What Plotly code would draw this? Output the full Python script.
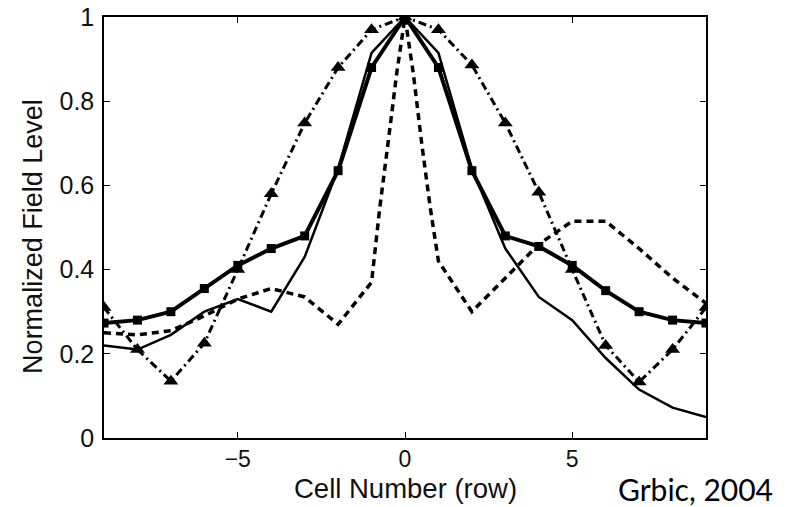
import plotly.graph_objects as go

cells = [-9, -8, -7, -6, -5, -4, -3, -2, -1, 0, 1, 2, 3, 4, 5, 6, 7, 8, 9]

square_vals = [0.273, 0.28, 0.30, 0.355, 0.41, 0.45, 0.48, 0.635, 0.88, 1.0,
               0.88, 0.635, 0.48, 0.455, 0.41, 0.35, 0.30, 0.28, 0.273]

thin_vals = [0.22, 0.21, 0.245, 0.30, 0.33, 0.30, 0.43, 0.64, 0.915, 1.0,
             0.915, 0.64, 0.45, 0.335, 0.28, 0.19, 0.115, 0.072, 0.05]

triangle_vals = [0.31, 0.21, 0.135, 0.225, 0.40, 0.58, 0.748, 0.88, 0.97, 1.0,
                 0.97, 0.886, 0.748, 0.584, 0.40, 0.22, 0.133, 0.21, 0.31]

dashed_x = [-9, -8, -7, -6, -5, -4, -3, -2, -1, -0.75, -0.5, -0.25, 0,
            0.25, 0.5, 0.75, 1, 2, 3, 4, 5, 6, 7, 8, 9]
dashed_vals = [0.25, 0.245, 0.255, 0.29, 0.33, 0.355, 0.335, 0.27, 0.37, 0.55, 0.705, 0.865, 1.0,
               0.865, 0.70, 0.55, 0.42, 0.30, 0.38, 0.46, 0.515, 0.515, 0.45, 0.38, 0.32]

x_ticks = [-5, 0, 5]
y_ticks = [0, 0.2, 0.4, 0.6, 0.8, 1]
y_tick_text = ["0", "0.2", "0.4", "0.6", "0.8", "1"]

fig = go.Figure()

fig.add_trace(go.Scatter(x=dashed_x, y=dashed_vals, mode="lines",
                         line=dict(color="black", width=3.5, dash="7px,5px"),
                         showlegend=False))
fig.add_trace(go.Scatter(x=cells, y=triangle_vals, mode="lines+markers",
                         line=dict(color="black", width=3, dash="8px,4px,2px,4px"),
                         marker=dict(symbol="triangle-up", size=13, color="black"),
                         showlegend=False))
fig.add_trace(go.Scatter(x=cells, y=thin_vals, mode="lines",
                         line=dict(color="black", width=2.5),
                         showlegend=False))
fig.add_trace(go.Scatter(x=cells, y=square_vals, mode="lines+markers",
                         line=dict(color="black", width=4),
                         marker=dict(symbol="square", size=9, color="black"),
                         showlegend=False))

font_family = "Liberation Sans, Arial, sans-serif"
axis_common = dict(showgrid=False, zeroline=False, showline=True, linecolor="black",
                   linewidth=1.5, mirror="ticks", ticks="inside", ticklen=6,
                   tickcolor="black", tickwidth=1, automargin=False)

fig.update_xaxes(range=[-9, 9], tickvals=x_ticks, ticklabelstandoff=0,
                 tickfont=dict(family=font_family, size=23, color="#111"), **axis_common)
fig.update_yaxes(range=[0, 1], tickvals=y_ticks, ticktext=y_tick_text,
                 ticklabelstandoff=3,
                 tickfont=dict(family=font_family, size=25, color="#111"), **axis_common)

fig.update_layout(
    width=792, height=507,
    margin=dict(l=104, r=86, t=17, b=69),
    paper_bgcolor="white", plot_bgcolor="white",
    annotations=[
        dict(text="Normalized Field Level", xref="paper", yref="paper",
             x=-0.118, y=0.48, xanchor="center", yanchor="middle", textangle=-90,
             showarrow=False,
             font=dict(family=font_family, size=27, color="#111")),
        dict(text="Cell Number (row)", xref="paper", yref="paper",
             x=0.5, y=-0.119, xanchor="center", yanchor="middle", showarrow=False,
             font=dict(family=font_family, size=27.5, color="#111")),
        dict(text="Grbic, 2004", xref="paper", yref="paper",
             x=0.983, y=-0.12, xanchor="center", yanchor="middle", showarrow=False,
             font=dict(family="Lato, sans-serif", size=30, color="black")),
    ],
)

fig.write_html("out.html", config={"displayModeBar": False},
               post_script="document.body.style.margin='0';document.body.style.overflow='hidden';")
